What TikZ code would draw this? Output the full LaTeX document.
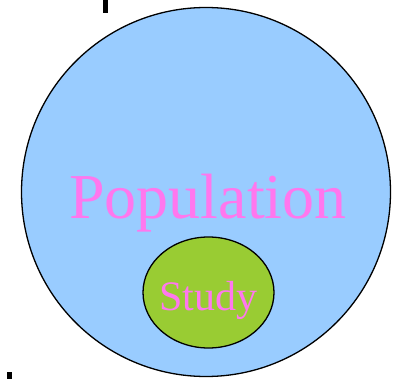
\documentclass[tikz,border=0pt]{standalone}
\usepackage{fontspec}
\setmainfont{Liberation Serif}
\usetikzlibrary{shapes.geometric}
\definecolor{popblue}{HTML}{99CCFF}
\definecolor{studygreen}{HTML}{99CC33}
\definecolor{labelpink}{HTML}{FF77EE}
\begin{document}
\begin{tikzpicture}[x=1pt,y=-1pt,
  region/.style={draw=black,line width=1.3pt},
  lbl/.style={text=labelpink,inner sep=0pt,anchor=base}]
\useasboundingbox (0,0) rectangle (406,379);
\fill[black] (103,0) rectangle (108,13);
\fill[black] (7,372) rectangle (12,379);
\node[region,fill=popblue,circle,minimum size=369pt,inner sep=0pt] (pop) at (206,192) {};
\node[region,fill=studygreen,ellipse,minimum width=131pt,minimum height=111pt,inner sep=0pt] (study) at (208.5,292.5) {};
\node[lbl,font=\fontsize{64}{64}\selectfont] (poptext) at (208,218) {Population};
\node[lbl,font=\fontsize{42}{42}\selectfont] (studytext) at (208.5,310) {Study};
\end{tikzpicture}
\end{document}
